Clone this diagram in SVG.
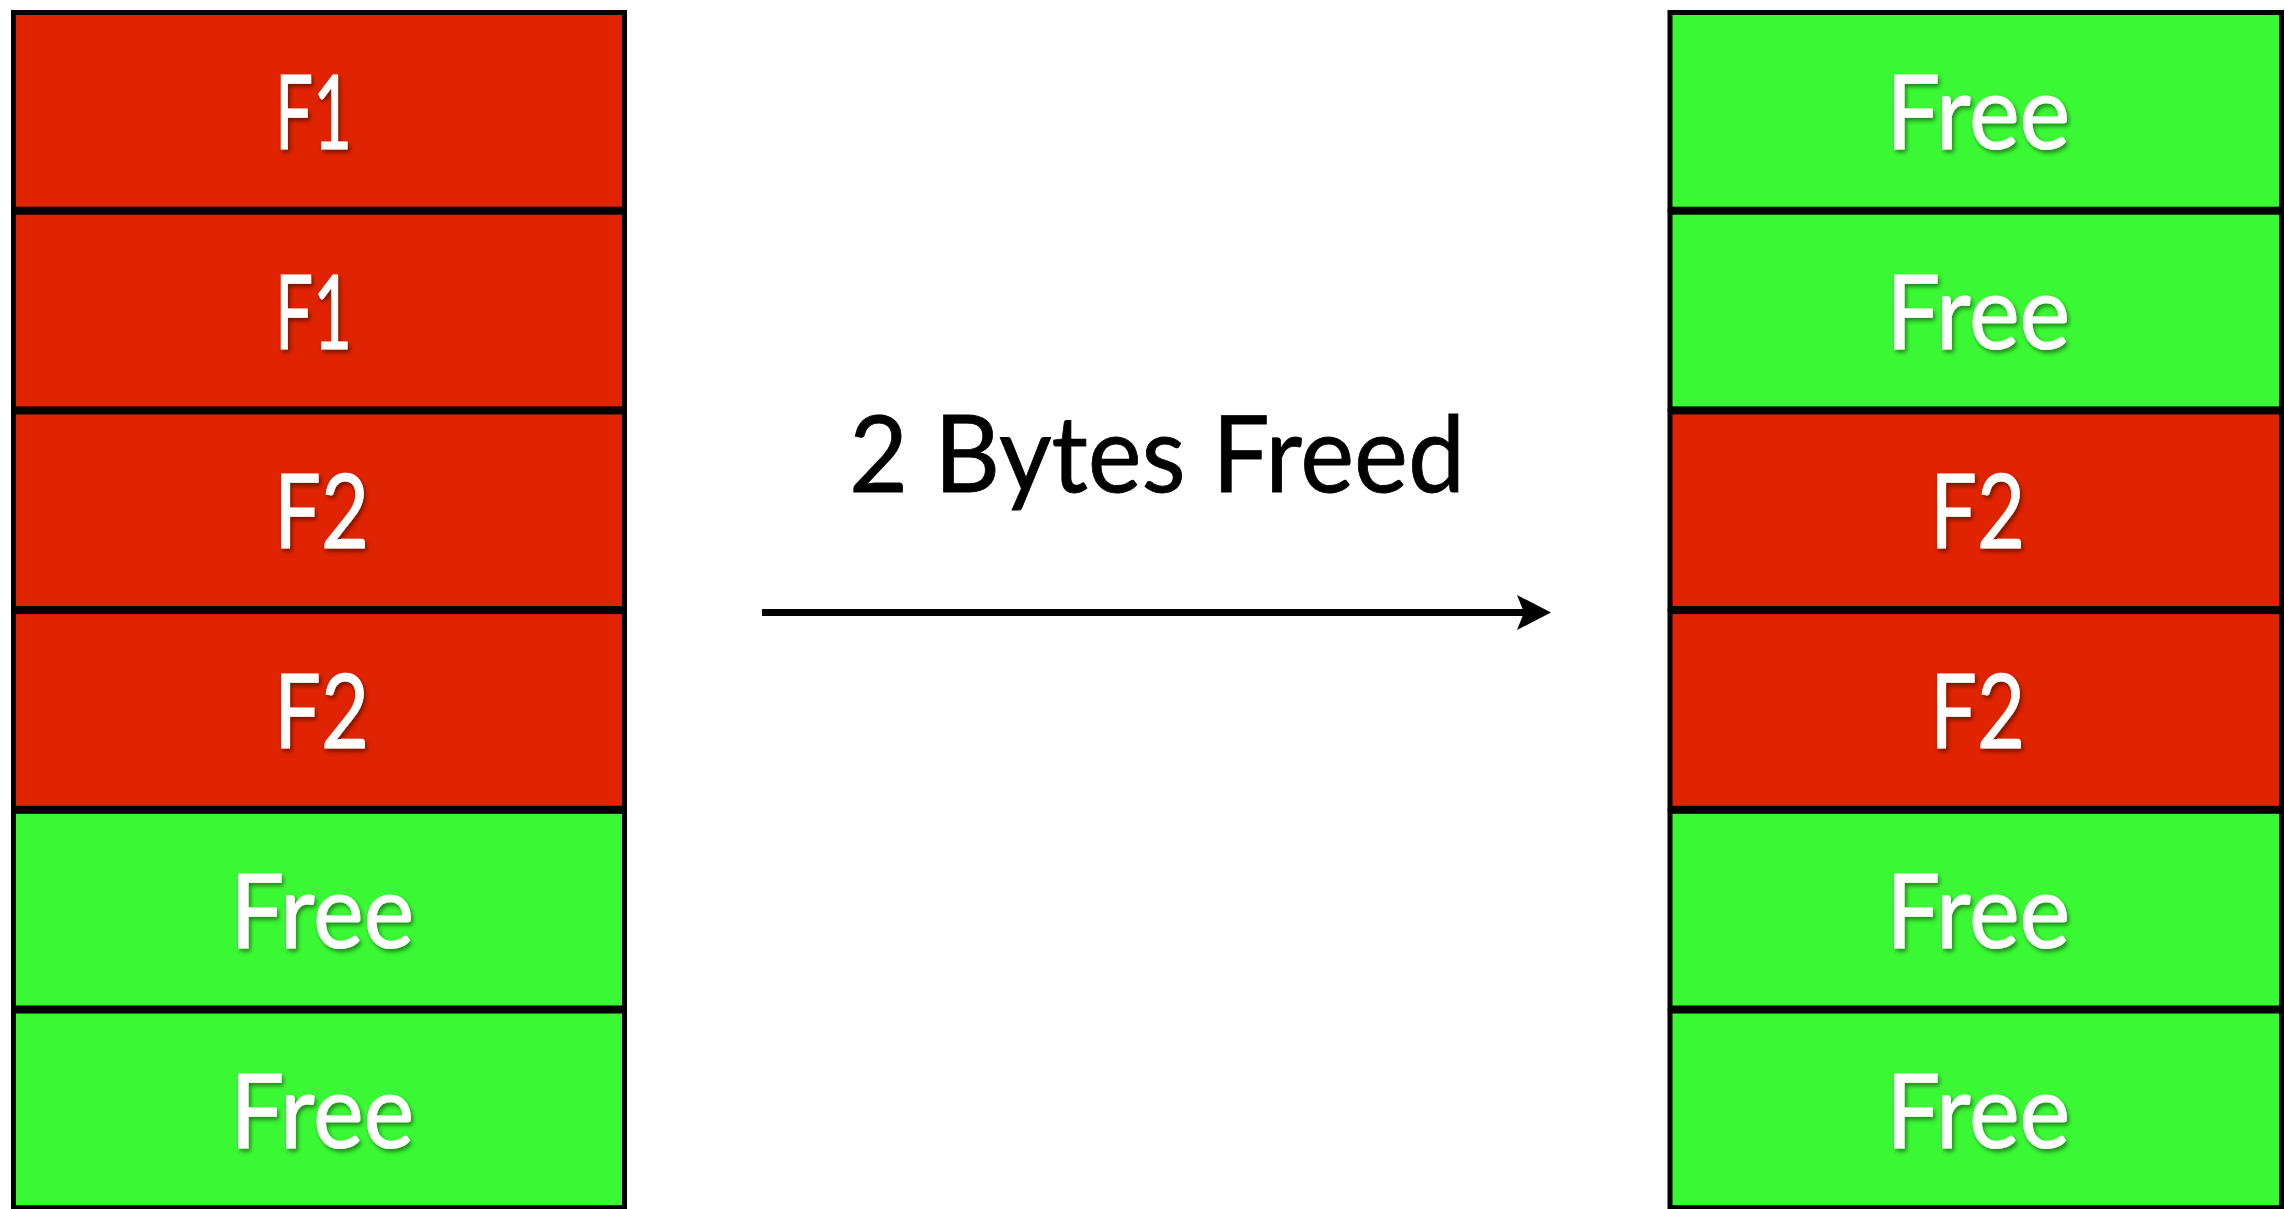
<svg xmlns="http://www.w3.org/2000/svg" width="2285" height="1209" viewBox="0 0 2285 1209">
<style>
.cell{stroke:#000;stroke-width:5}
.used{fill:#E02300}
.free{fill:#3AF934}
.t{font-family:Lato,"Liberation Sans",sans-serif;font-size:103px;fill:#fff;stroke:#fff;stroke-width:1;filter:url(#sh)}
.lbl{font-family:Lato,"Liberation Sans",sans-serif;font-size:107px;fill:#000;stroke:#000;stroke-width:0.8}
</style>
<defs>
<filter id="sh" x="-20%" y="-20%" width="140%" height="140%">
<feDropShadow dx="2" dy="3" stdDeviation="2" flood-color="#000" flood-opacity="0.45"/>
</filter>
<marker id="ah" viewBox="0 0 34 35" refX="7" refY="17.5" markerWidth="34" markerHeight="35" markerUnits="userSpaceOnUse" orient="auto">
<path d="M0,0 L34,17.5 L0,35 L7,17.5 Z" fill="#000"/>
</marker>
</defs>
<g id="left">
<g id="l1"><rect class="cell used" x="13.5" y="12.5" width="611" height="196.7"/><text class="t" x="275" y="149" textLength="77" lengthAdjust="spacingAndGlyphs">F1</text></g>
<g id="l2"><rect class="cell used" x="13.5" y="212.2" width="611" height="196.7"/><text class="t" x="275" y="348.7" textLength="77" lengthAdjust="spacingAndGlyphs">F1</text></g>
<g id="l3"><rect class="cell used" x="13.5" y="411.9" width="611" height="196.7"/><text class="t" x="274" y="548.4" textLength="95" lengthAdjust="spacingAndGlyphs">F2</text></g>
<g id="l4"><rect class="cell used" x="13.5" y="611.6" width="611" height="196.7"/><text class="t" x="274" y="748.1" textLength="95" lengthAdjust="spacingAndGlyphs">F2</text></g>
<g id="l5"><rect class="cell free" x="13.5" y="811.3" width="611" height="196.7"/><text class="t" x="230" y="947.8" textLength="184" lengthAdjust="spacingAndGlyphs">Free</text></g>
<g id="l6"><rect class="cell free" x="13.5" y="1011" width="611" height="196.7"/><text class="t" x="230" y="1147.5" textLength="184" lengthAdjust="spacingAndGlyphs">Free</text></g>
</g>
<g id="right">
<g id="r1"><rect class="cell free" x="1670" y="12.5" width="611.5" height="196.7"/><text class="t" x="1886" y="149" textLength="184" lengthAdjust="spacingAndGlyphs">Free</text></g>
<g id="r2"><rect class="cell free" x="1670" y="212.2" width="611.5" height="196.7"/><text class="t" x="1886" y="348.7" textLength="184" lengthAdjust="spacingAndGlyphs">Free</text></g>
<g id="r3"><rect class="cell used" x="1670" y="411.9" width="611.5" height="196.7"/><text class="t" x="1930" y="548.4" textLength="95" lengthAdjust="spacingAndGlyphs">F2</text></g>
<g id="r4"><rect class="cell used" x="1670" y="611.6" width="611.5" height="196.7"/><text class="t" x="1930" y="748.1" textLength="95" lengthAdjust="spacingAndGlyphs">F2</text></g>
<g id="r5"><rect class="cell free" x="1670" y="811.3" width="611.5" height="196.7"/><text class="t" x="1886" y="947.8" textLength="184" lengthAdjust="spacingAndGlyphs">Free</text></g>
<g id="r6"><rect class="cell free" x="1670" y="1011" width="611.5" height="196.7"/><text class="t" x="1886" y="1147.5" textLength="184" lengthAdjust="spacingAndGlyphs">Free</text></g>
</g>
<g id="connectors">
<line x1="762" y1="612.5" x2="1524" y2="612.5" stroke="#000" stroke-width="7" marker-end="url(#ah)"/>
</g>
<g id="label">
<text class="lbl" x="849" y="492" textLength="616" lengthAdjust="spacingAndGlyphs">2 Bytes Freed</text>
</g>
</svg>
